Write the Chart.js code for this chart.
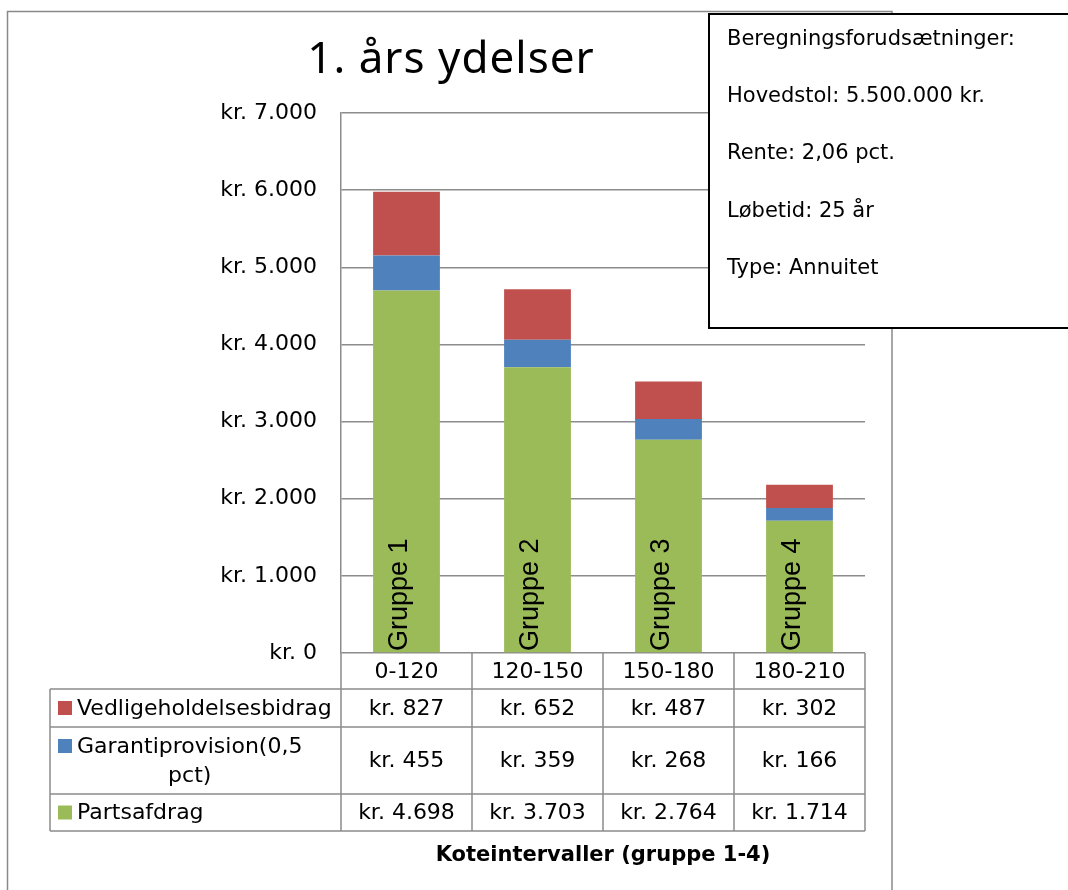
<!DOCTYPE html>
<html>
<head>
<meta charset="utf-8">
<script src="https://cdn.jsdelivr.net/npm/chart.js@4.4.1/dist/chart.umd.min.js"></script>
<style>
  html, body { margin: 0; padding: 0; background: #fff; }
  canvas { display: block; }
</style>
</head>
<body>
<canvas id="chart" width="1068" height="890"></canvas>
<script>
// 1. års ydelser — stacked columns with an Excel-style data table

const TITLE      = '1. års ydelser';
const AXIS_TITLE = 'Koteintervaller (gruppe 1-4)';

const categories       = ['0-120', '120-150', '150-180', '180-210'];
const groupNames       = ['Gruppe 1', 'Gruppe 2', 'Gruppe 3', 'Gruppe 4'];
const partsafdrag      = [4698, 3703, 2764, 1714];
const garantiprovision = [455, 359, 268, 166];
const vedligeholdelse  = [827, 652, 487, 302];

const Y_MAX  = 7000;
const Y_STEP = 1000;

const noteLines = [
  'Beregningsforudsætninger:',
  'Hovedstol: 5.500.000 kr.',
  'Rente: 2,06 pct.',
  'Løbetid: 25 år',
  'Type: Annuitet'
];

const GREEN = '#9BBB59';
const BLUE  = '#4F81BD';
const RED   = '#C0504D';
const LINE  = '#8c8c8c';
const FONT  = "'DejaVu Sans', sans-serif";

function fmtKr(n) {
  return 'kr. ' + String(n).replace(/\B(?=(\d{3})+(?!\d))/g, '.');
}

// ── frame, title ─────────────────────────────────────────────────────
const framePlugin = {
  id: 'frame',
  beforeDraw(chart) {
    const { ctx, width, height } = chart;
    ctx.save();
    ctx.fillStyle = '#fff';
    ctx.fillRect(0, 0, width, height);
    ctx.strokeStyle = '#898989';
    ctx.lineWidth = 1.5;
    ctx.strokeRect(7.5, 11.5, 884.5, height + 20);
    ctx.fillStyle = '#000';
    ctx.font = "44px 'Noto Sans', sans-serif";
    ctx.letterSpacing = '1px';
    ctx.textAlign = 'center';
    ctx.textBaseline = 'alphabetic';
    ctx.fillText(TITLE, 451, 73);
    ctx.letterSpacing = '0px';
    ctx.restore();
  }
};

// ── rotated "Gruppe N" labels inside the green bars ──────────────────
const groupLabelPlugin = {
  id: 'groupLabels',
  afterDatasetsDraw(chart) {
    const { ctx } = chart;
    const meta = chart.getDatasetMeta(0);
    const base = chart.scales.y.getPixelForValue(0);
    ctx.save();
    ctx.fillStyle = '#000';
    ctx.font = "27px 'Liberation Sans', Arial, sans-serif";
    ctx.textAlign = 'left';
    ctx.textBaseline = 'alphabetic';
    meta.data.forEach((bar, i) => {
      ctx.save();
      ctx.translate(bar.x, base - 2);
      ctx.rotate(-Math.PI / 2);
      ctx.fillText(groupNames[i], 0, 0);
      ctx.restore();
    });
    ctx.restore();
  }
};

// ── data table under the plot ────────────────────────────────────────
const tablePlugin = {
  id: 'dataTable',
  afterDraw(chart) {
    const { ctx, chartArea: area, scales: { x } } = chart;
    const n      = categories.length;
    const colW   = (area.right - area.left) / n;
    const tLeft  = 50;
    const rowH   = [36, 38, 67, 37];
    const rowTop = [area.bottom];
    rowH.forEach((h, i) => rowTop.push(rowTop[i] + h));
    const tBottom = rowTop[rowTop.length - 1];

    ctx.save();
    ctx.strokeStyle = LINE;
    ctx.lineWidth = 1.5;
    ctx.beginPath();
    // horizontals
    for (let r = 1; r < rowTop.length; r++) {
      ctx.moveTo(tLeft, rowTop[r]);
      ctx.lineTo(area.right, rowTop[r]);
    }
    // verticals
    ctx.moveTo(tLeft, rowTop[1]);
    ctx.lineTo(tLeft, tBottom);
    for (let k = 0; k <= n; k++) {
      const xx = area.left + k * colW;
      ctx.moveTo(xx, area.bottom);
      ctx.lineTo(xx, tBottom);
    }
    ctx.stroke();

    ctx.fillStyle = '#000';
    ctx.font = '22px ' + FONT;
    ctx.textBaseline = 'middle';
    ctx.textAlign = 'center';
    categories.forEach((c, i) => {
      ctx.fillText(c, x.getPixelForValue(i), rowTop[0] + rowH[0] / 2 + 1);
    });

    // table rows go top-down in reverse stacking order
    const rows = chart.data.datasets.slice().reverse();
    rows.forEach((ds, r) => {
      const top = rowTop[r + 1];
      const h   = rowH[r + 1];
      const mid = top + h / 2;
      const lines = ds.tableLabel;
      const lineH = 29;
      const first = mid - (lines.length - 1) * lineH / 2;

      ctx.fillStyle = ds.backgroundColor;
      ctx.fillRect(58, first - 7, 14, 14);

      ctx.fillStyle = '#000';
      ctx.textAlign = 'left';
      ctx.fillText(lines[0], 77, first + 1);
      const w1 = ctx.measureText(lines[0]).width;
      ctx.textAlign = 'center';
      for (let l = 1; l < lines.length; l++) {
        ctx.fillText(lines[l], 77 + w1 / 2, first + l * lineH + 1);
      }

      ds.data.forEach((v, i) => {
        ctx.fillText(fmtKr(v), x.getPixelForValue(i), mid + 1);
      });
    });

    // axis title
    ctx.font = 'bold 21px ' + FONT;
    ctx.textAlign = 'center';
    ctx.fillText(AXIS_TITLE, (area.left + area.right) / 2, 856);

    // note box, drawn over everything
    ctx.fillStyle = '#fff';
    ctx.fillRect(709, 14, 400, 314);
    ctx.strokeStyle = '#000';
    ctx.lineWidth = 2;
    ctx.strokeRect(709, 14, 400, 314);
    ctx.fillStyle = '#000';
    ctx.font = '21px ' + FONT;
    ctx.textAlign = 'left';
    ctx.textBaseline = 'alphabetic';
    noteLines.forEach((t, i) => ctx.fillText(t, 727, 45 + i * 57.2));
    ctx.restore();
  }
};

const datasets = [
  {
    label: 'Partsafdrag',
    tableLabel: ['Partsafdrag'],
    data: partsafdrag,
    backgroundColor: GREEN
  },
  {
    label: 'Garantiprovision(0,5 pct)',
    tableLabel: ['Garantiprovision(0,5', 'pct)'],
    data: garantiprovision,
    backgroundColor: BLUE
  },
  {
    label: 'Vedligeholdelsesbidrag',
    tableLabel: ['Vedligeholdelsesbidrag'],
    data: vedligeholdelse,
    backgroundColor: RED
  }
];

new Chart(document.getElementById('chart').getContext('2d'), {
  type: 'bar',
  data: { labels: categories, datasets },
  options: {
    responsive: false,
    animation: false,
    layout: { padding: { left: 0, top: 113, right: 203, bottom: 237 } },
    datasets: { bar: { barPercentage: 0.51, categoryPercentage: 1, borderWidth: 0 } },
    plugins: {
      legend:  { display: false },
      tooltip: { enabled: false }
    },
    scales: {
      x: {
        stacked: true,
        display: false
      },
      y: {
        stacked: true,
        min: 0,
        max: Y_MAX,
        afterFit(scale) { scale.width = 341; },
        grid:   { color: LINE, lineWidth: 1.5, drawTicks: false },
        border: { color: LINE, width: 1.5 },
        ticks: {
          stepSize: Y_STEP,
          padding: 24,
          color: '#000',
          font: { family: FONT, size: 22 },
          callback: v => fmtKr(v)
        }
      }
    }
  },
  plugins: [framePlugin, groupLabelPlugin, tablePlugin]
});
</script>
</body>
</html>
